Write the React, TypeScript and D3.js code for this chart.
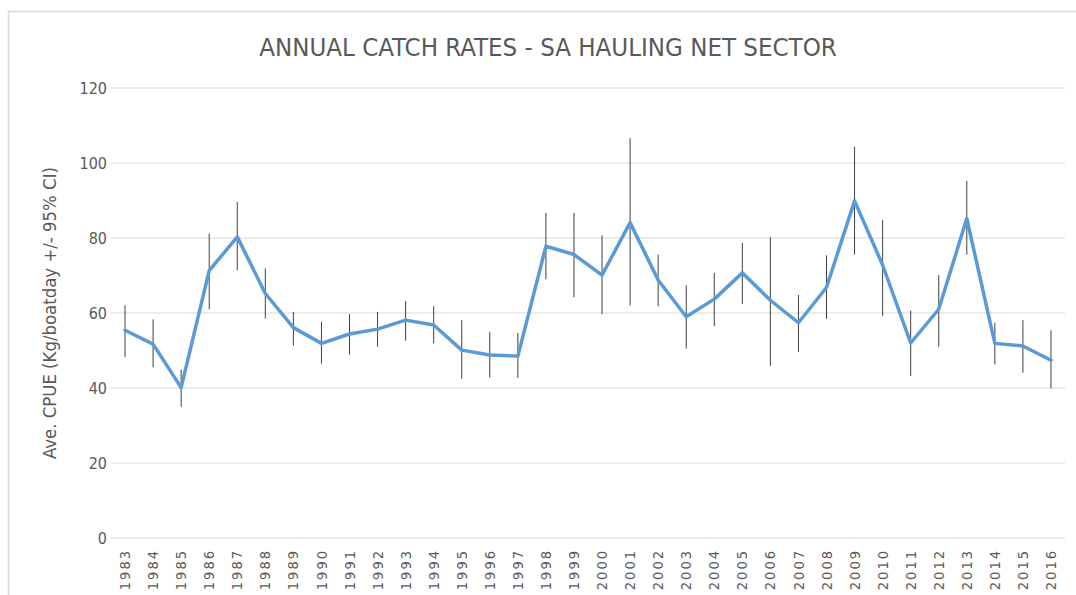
import React from "react";
import * as d3 from "d3";

const years: string[] = [
  "1983","1984","1985","1986","1987","1988","1989","1990","1991","1992","1993","1994",
  "1995","1996","1997","1998","1999","2000","2001","2002","2003","2004","2005","2006",
  "2007","2008","2009","2010","2011","2012","2013","2014","2015","2016",
];
const cpue: number[] = [
  55.4, 51.7, 40.1, 71.3, 80.3, 65.2, 56.1, 51.9, 54.4, 55.7, 58.1, 56.8,
  50.1, 48.8, 48.5, 77.8, 75.6, 70.1, 84.1, 68.8, 59.0, 63.7, 70.7, 63.4,
  57.4, 66.8, 89.9, 72.8, 52.0, 61.0, 85.2, 51.9, 51.2, 47.4,
];
const ciUpper: number[] = [
  62.1, 58.3, 44.9, 81.2, 89.6, 71.9, 60.3, 57.7, 59.7, 60.3, 63.2, 61.8,
  58.1, 55.0, 54.7, 86.7, 86.7, 80.7, 106.6, 75.6, 67.4, 70.7, 78.7, 80.2,
  64.8, 75.4, 104.3, 84.8, 60.6, 70.1, 95.2, 57.4, 58.1, 55.4,
];
const ciLower: number[] = [
  48.3, 45.5, 35.0, 61.0, 71.4, 58.5, 51.3, 46.5, 48.9, 51.0, 52.6, 51.9,
  42.5, 42.8, 42.7, 69.0, 64.2, 59.7, 62.0, 61.8, 50.5, 56.5, 62.4, 45.9,
  49.6, 58.4, 75.6, 59.2, 43.2, 51.0, 75.6, 46.3, 44.1, 39.9,
];
const yTicks: number[] = [0, 20, 40, 60, 80, 100, 120];

const title = "ANNUAL CATCH RATES - SA HAULING NET SECTOR";
const yLabel = "Ave. CPUE (Kg/boatday +/- 95% CI)";

const W = 1076;
const H = 595;
const plot = { left: 111, right: 1065, top: 88, bottom: 538 };
const font = "'Liberation Sans Narrow', 'DejaVu Sans Condensed', 'Open Sans', sans-serif";
const textColor = "#595959";

export default function App() {
  const x = d3.scaleBand<string>().domain(years).range([plot.left, plot.right]);
  const y = d3.scaleLinear().domain([0, 120]).range([plot.bottom, plot.top]);
  const cx = (yr: string) => (x(yr) as number) + x.bandwidth() / 2;
  const line = d3
    .line<number>()
    .x((_, i) => cx(years[i]))
    .y((d) => y(d));

  return (
    <div style={{ position: "fixed", left: 0, top: 0, width: W, height: H, background: "#fff" }}>
      <svg width={W} height={H} style={{ display: "block" }}>
        <rect x={8.5} y={11.5} width={W + 10} height={H + 10} fill="#fff" stroke="#d9d9d9" strokeWidth={1.5} />
        <text x={548} y={56} textAnchor="middle" fontFamily={font} fontSize={25.6} fill={textColor}>
          {title}
        </text>
        {yTicks.map((t) => (
          <g key={t}>
            <line x1={plot.left} x2={plot.right} y1={y(t)} y2={y(t)} stroke="#d9d9d9" strokeWidth={1} />
            <text x={107} y={y(t)} dy="0.35em" textAnchor="end" fontFamily={font} fontSize={16} fill={textColor}>
              {t}
            </text>
          </g>
        ))}
        <text
          transform={`translate(50, ${(plot.top + plot.bottom) / 2}) rotate(-90)`}
          textAnchor="middle"
          dy="0.35em"
          fontFamily={font}
          fontSize={18.4}
          fill={textColor}
        >
          {yLabel}
        </text>
        {years.map((yr) => (
          <text
            key={yr}
            transform={`translate(${cx(yr)}, 549) rotate(-90)`}
            textAnchor="end"
            dy="0.35em"
            fontFamily={font}
            fontSize={14.5}
            letterSpacing={2}
            fill={textColor}
          >
            {yr}
          </text>
        ))}
        {years.map((yr, i) => (
          <line
            key={"e" + yr}
            x1={cx(yr)}
            x2={cx(yr)}
            y1={y(ciUpper[i])}
            y2={y(ciLower[i])}
            stroke="#404040"
            strokeWidth={1}
          />
        ))}
        <path d={line(cpue) || ""} fill="none" stroke="#5B9BD5" strokeWidth={3.5} strokeLinejoin="round" strokeLinecap="round" />
      </svg>
    </div>
  );
}
